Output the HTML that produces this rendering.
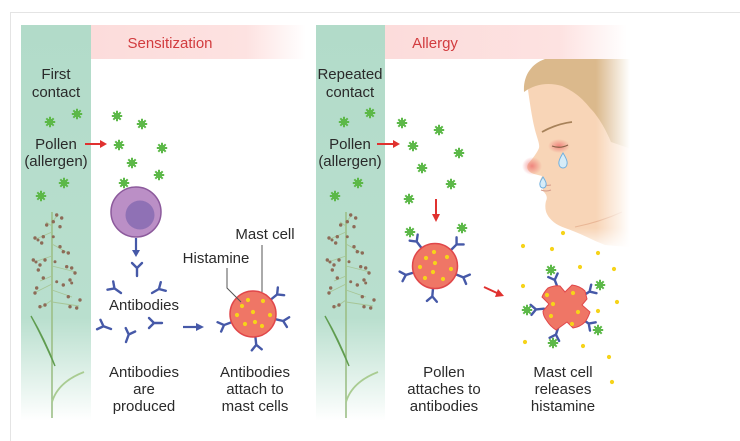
<!DOCTYPE html>
<html><head><meta charset="utf-8"><style>
html,body{margin:0;padding:0;background:#fff;}
svg{display:block;}
text{font-family:"Liberation Sans",Arial,sans-serif;font-size:15px;fill:#2a2a2a;}
</style></head><body>
<svg width="740" height="441" viewBox="0 0 740 441" xmlns="http://www.w3.org/2000/svg">
<defs>
<linearGradient id="gcol" x1="0" y1="0" x2="0" y2="1">
<stop offset="0" stop-color="#b2dbc9"/><stop offset="0.74" stop-color="#b9dfce"/><stop offset="1" stop-color="#ffffff"/>
</linearGradient>
<linearGradient id="pk1" x1="0" y1="0" x2="1" y2="0">
<stop offset="0" stop-color="#fcdcdb"/><stop offset="0.72" stop-color="#fde2e1"/><stop offset="1" stop-color="#ffffff"/>
</linearGradient>
<linearGradient id="fadeR" x1="0" y1="0" x2="1" y2="0">
<stop offset="0" stop-color="#fff" stop-opacity="0"/><stop offset="1" stop-color="#fff" stop-opacity="1"/>
</linearGradient>
<linearGradient id="fadeB" x1="0" y1="0" x2="0" y2="1">
<stop offset="0" stop-color="#fff" stop-opacity="0"/><stop offset="1" stop-color="#fff" stop-opacity="1"/>
</linearGradient>
<radialGradient id="rg">
<stop offset="0" stop-color="#ec6a6a" stop-opacity="0.75"/><stop offset="1" stop-color="#ec6a6a" stop-opacity="0"/>
</radialGradient>
<g id="pol"><circle r="3.2" fill="#5cb848"/><path d="M0-5.2V5.2M-5.2 0H5.2M-3.7-3.7L3.7 3.7M-3.7 3.7L3.7-3.7" stroke="#5cb848" stroke-width="2"/></g>
<g id="ab"><path d="M0 0V-8M0-8L-5-13M0-8L5-13" fill="none" stroke="#4659a8" stroke-width="2.4" stroke-linecap="round" stroke-linejoin="round"/></g>
<g id="plant">
<path d="M52 212V418" stroke="#9cbf87" stroke-width="1.6" fill="none"/>
<path d="M52 222L58 215M52 226L46 222M52 232L36 239M52 244L68 253M52 256L34 262M52 266L76 272M52 276L40 281M52 284L36 292M52 290L72 297M52 300L42 307M52 302L79 306" stroke="#a6c596" stroke-width="0.9" fill="none"/>
<path d="M31 316Q42 336 55 366Q45 340 31 316Z" fill="#5f9c4f" stroke="#5f9c4f" stroke-width="1.4"/>
<path d="M52 402Q58 382 84 372" stroke="#a9cc92" stroke-width="1.8" fill="none"/>
<g fill="#8d6b57">
<circle cx="56.7" cy="215" r="1.7"/><circle cx="61.7" cy="218" r="1.7"/><circle cx="53.3" cy="221.7" r="1.7"/><circle cx="46.7" cy="225" r="1.7"/><circle cx="60" cy="226.7" r="1.7"/>
<circle cx="35" cy="238" r="1.7"/><circle cx="38" cy="240" r="1.5"/><circle cx="43.3" cy="236.7" r="1.7"/><circle cx="41.7" cy="243" r="1.7"/><circle cx="53.3" cy="236.7" r="1.5"/>
<circle cx="60" cy="246.7" r="1.7"/><circle cx="68.3" cy="253" r="1.7"/><circle cx="63.3" cy="251.7" r="1.7"/><circle cx="33.3" cy="260" r="1.7"/><circle cx="36" cy="262" r="1.5"/>
<circle cx="45" cy="260" r="1.7"/><circle cx="40" cy="265" r="1.7"/><circle cx="55" cy="261.7" r="1.5"/><circle cx="66.7" cy="266.7" r="1.7"/><circle cx="71.7" cy="268" r="1.7"/>
<circle cx="75" cy="273" r="1.7"/><circle cx="38.3" cy="270" r="1.7"/><circle cx="43.3" cy="278" r="1.7"/><circle cx="56.7" cy="281.7" r="1.5"/><circle cx="70" cy="280" r="1.7"/>
<circle cx="63.3" cy="285" r="1.7"/><circle cx="71.7" cy="283" r="1.5"/><circle cx="36.7" cy="288" r="1.7"/><circle cx="35" cy="293" r="1.7"/><circle cx="68.3" cy="296.7" r="1.7"/>
<circle cx="40" cy="306.7" r="1.7"/><circle cx="45" cy="305" r="1.7"/><circle cx="70" cy="306.7" r="1.7"/><circle cx="76.7" cy="308" r="1.7"/><circle cx="80" cy="300" r="1.7"/>
</g>
</g>
<circle id="d" r="2.1" fill="#f6d31a"/>
</defs>

<!-- frame -->
<path d="M10.5 441V12.5H740" fill="none" stroke="#e4e4e4" stroke-width="1"/>

<!-- columns & bands -->
<rect x="21" y="25" width="70" height="396" fill="url(#gcol)"/>
<rect x="316" y="25" width="69" height="396" fill="url(#gcol)"/>
<rect x="91" y="25" width="215" height="34" fill="url(#pk1)"/>
<rect x="385" y="25" width="242" height="34" fill="url(#pk1)"/>

<use href="#plant"/>
<use href="#plant" transform="translate(294 0)"/>

<!-- face -->
<path d="M528 90C530 104 532 118 535 130C537 138 540 144 539 148C537 153 533 158 528 164C526 168 528 172 534 174L542 176C541 179 539 181 540 184C542 186 543 188 543 191C546 194 548 197 546 201C545 205 545 210 547 214C550 220 556 225 565 228C580 233 592 240 605 245L640 248L640 59L545 59Z" fill="#f8d5b7"/>
<path d="M524 92C523 76 531 64 545 59L640 59L640 152L611 142C605 128 598 116 590 108C582 98 575 92 562 86C548 82 535 84 524 92Z" fill="#dbb98c"/>
<path d="M575 227Q600 222 622 212" stroke="#e9b796" stroke-width="1" fill="none"/>
<ellipse cx="559" cy="146" rx="11" ry="7" fill="url(#rg)"/>
<ellipse cx="532" cy="166" rx="10" ry="9" fill="url(#rg)"/>
<path d="M542 132Q556 124 572 122" stroke="#a7825a" stroke-width="1.8" fill="none"/>
<path d="M552 146Q560 149 568 145" stroke="#8a6248" stroke-width="1.2" fill="none"/>
<path d="M540 184Q546 186 551 185" stroke="#d49a8a" stroke-width="1" fill="none"/>
<path d="M541 190Q546 192 551 190" stroke="#d49a8a" stroke-width="1" fill="none"/>
<path d="M563 153Q568 161 567 164A4 4 0 0 1 559 164Q558 161 563 153Z" fill="#d6ecf8" stroke="#6fb0e0" stroke-width="1"/>
<path d="M543 177Q547 183 546 185A3 3 0 0 1 540 185Q539 183 543 177Z" fill="#d6ecf8" stroke="#6fb0e0" stroke-width="1"/>
<rect x="596" y="59" width="34" height="200" fill="url(#fadeR)"/>
<rect x="630" y="59" width="20" height="200" fill="#fff"/>
<rect x="540" y="228" width="100" height="24" fill="url(#fadeB)"/>

<!-- texts -->
<text x="170" y="48" text-anchor="middle" style="fill:#d23c3f">Sensitization</text>
<text x="435" y="48" text-anchor="middle" style="fill:#d23c3f">Allergy</text>

<text x="56" y="79" text-anchor="middle">First</text>
<text x="56" y="97" text-anchor="middle">contact</text>
<text x="56" y="149" text-anchor="middle">Pollen</text>
<text x="56" y="166" text-anchor="middle">(allergen)</text>
<text x="350" y="79" text-anchor="middle">Repeated</text>
<text x="350" y="97" text-anchor="middle">contact</text>
<text x="350" y="149" text-anchor="middle">Pollen</text>
<text x="350" y="166" text-anchor="middle">(allergen)</text>

<text x="144" y="310" text-anchor="middle">Antibodies</text>
<text x="265" y="239" text-anchor="middle">Mast cell</text>
<text x="216" y="263" text-anchor="middle">Histamine</text>

<text x="144" y="377" text-anchor="middle">Antibodies</text>
<text x="144" y="394" text-anchor="middle">are</text>
<text x="144" y="411" text-anchor="middle">produced</text>
<text x="255" y="377" text-anchor="middle">Antibodies</text>
<text x="255" y="394" text-anchor="middle">attach to</text>
<text x="255" y="411" text-anchor="middle">mast cells</text>
<text x="444" y="377" text-anchor="middle">Pollen</text>
<text x="444" y="394" text-anchor="middle">attaches to</text>
<text x="444" y="411" text-anchor="middle">antibodies</text>
<text x="563" y="377" text-anchor="middle">Mast cell</text>
<text x="563" y="394" text-anchor="middle">releases</text>
<text x="563" y="411" text-anchor="middle">histamine</text>

<!-- pollen -->
<use href="#pol" x="50" y="122"/><use href="#pol" x="77" y="114"/><use href="#pol" x="64" y="183"/><use href="#pol" x="41" y="196"/>
<use href="#pol" x="117" y="116"/><use href="#pol" x="142" y="124"/><use href="#pol" x="119" y="145"/><use href="#pol" x="162" y="148"/><use href="#pol" x="132" y="163"/><use href="#pol" x="159" y="175"/><use href="#pol" x="124" y="183"/>
<use href="#pol" x="344" y="122"/><use href="#pol" x="370" y="113"/><use href="#pol" x="358" y="183"/><use href="#pol" x="335" y="196"/>
<use href="#pol" x="402" y="123"/><use href="#pol" x="439" y="130"/><use href="#pol" x="413" y="146"/><use href="#pol" x="459" y="153"/><use href="#pol" x="422" y="168"/><use href="#pol" x="451" y="184"/><use href="#pol" x="409" y="199"/>

<!-- red arrows -->
<g stroke="#e0312f" stroke-width="2" fill="#e0312f">
<path d="M85 144H101"/><path d="M107 144L100 140V148Z" stroke="none"/>
<path d="M377 144H394"/><path d="M400 144L393 140V148Z" stroke="none"/>
<path d="M436 199V215"/><path d="M436 222L432 214H440Z" stroke="none"/>
<path d="M484 287L497 293"/><path d="M504 296L495 297L498 289Z" stroke="none"/>
</g>

<!-- purple cell -->
<circle cx="136" cy="212" r="25" fill="#bb8fc6" stroke="#8c5a9c" stroke-width="1.5"/>
<circle cx="140" cy="215" r="14.5" fill="#8f71b5"/>
<!-- blue arrows -->
<g stroke="#4659a8" stroke-width="2.2" fill="#4659a8">
<path d="M136 238V251"/><path d="M136 257L132 250H140Z" stroke="none"/>
<path d="M183 327H197"/><path d="M204 327L196 323V331Z" stroke="none"/>
</g>
<!-- free antibodies -->
<use href="#ab" transform="translate(137 276)"/>
<use href="#ab" transform="translate(121 293) rotate(-55)"/>
<use href="#ab" transform="translate(152 293) rotate(60)"/>
<use href="#ab" transform="translate(111 329) rotate(-70)"/>
<use href="#ab" transform="translate(126 342) rotate(20)"/>
<use href="#ab" transform="translate(162 323) rotate(-90)"/>

<!-- mast cell 1 -->
<use href="#ab" transform="translate(231.5 322.2) rotate(-111)"/>
<use href="#ab" transform="translate(270.9 299.5) rotate(51)"/>
<use href="#ab" transform="translate(275.4 319.2) rotate(103)"/>
<use href="#ab" transform="translate(255.4 336.9) rotate(174)"/>
<circle cx="253" cy="314" r="23" fill="#ef7666" stroke="#e0474a" stroke-width="1.5"/>
<use href="#d" x="248" y="300"/><use href="#d" x="263" y="301"/><use href="#d" x="242" y="306"/><use href="#d" x="253" y="312"/><use href="#d" x="237" y="315"/><use href="#d" x="270" y="315"/><use href="#d" x="255" y="322"/><use href="#d" x="245" y="324"/><use href="#d" x="262" y="326"/>
<path d="M262 245V292M227 268V288L241 302" stroke="#555" stroke-width="1" fill="none"/>

<!-- mast cell 2 -->
<use href="#ab" transform="translate(421.5 248) rotate(-37)"/>
<use href="#ab" transform="translate(450.9 250.1) rotate(45)"/>
<use href="#ab" transform="translate(413.5 272.6) rotate(-107)"/>
<use href="#ab" transform="translate(455.9 274.4) rotate(112)"/>
<use href="#ab" transform="translate(433 288.4) rotate(185)"/>
<circle cx="435" cy="266" r="22.5" fill="#ef7666" stroke="#e0474a" stroke-width="1.5"/>
<use href="#d" x="434" y="252"/><use href="#d" x="426" y="258"/><use href="#d" x="447" y="257"/><use href="#d" x="435" y="263"/><use href="#d" x="420" y="267"/><use href="#d" x="451" y="269"/><use href="#d" x="433" y="272"/><use href="#d" x="425" y="278"/><use href="#d" x="443" y="279"/>
<use href="#pol" x="410" y="232"/><use href="#pol" x="462" y="228"/>

<!-- burst cell -->
<use href="#ab" transform="translate(557.6 287.4) rotate(-21)"/>
<use href="#ab" transform="translate(582.8 295.8) rotate(58)"/>
<use href="#ab" transform="translate(544 308.7) rotate(-95)"/>
<use href="#ab" transform="translate(582.2 319) rotate(125)"/>
<use href="#ab" transform="translate(558.4 327) rotate(198)"/>
<path d="M548 288Q555 285 560 286L565 292L572 285Q580 286 585 291L587 299L582 305L590 312Q588 318 585 322Q580 327 573 328L567 322L556 330Q550 326 547 321Q543 316 543 311L549 304L542 297Q544 292 548 288Z" fill="#ef7666" stroke="#e0474a" stroke-width="1"/>
<use href="#pol" x="551" y="270"/><use href="#pol" x="600" y="285"/><use href="#pol" x="527" y="310"/><use href="#pol" x="598" y="330"/><use href="#pol" x="553" y="343"/>
<use href="#d" x="547" y="295"/><use href="#d" x="573" y="293"/><use href="#d" x="553" y="304"/><use href="#d" x="578" y="312"/><use href="#d" x="551" y="316"/><use href="#d" x="572" y="324"/>
<use href="#d" x="563" y="233"/><use href="#d" x="523" y="246"/><use href="#d" x="552" y="249"/><use href="#d" x="598" y="253"/><use href="#d" x="580" y="267"/><use href="#d" x="614" y="269"/><use href="#d" x="523" y="286"/><use href="#d" x="617" y="302"/><use href="#d" x="598" y="311"/><use href="#d" x="525" y="342"/><use href="#d" x="583" y="346"/><use href="#d" x="609" y="357"/><use href="#d" x="612" y="382"/>
</svg>
</body></html>
